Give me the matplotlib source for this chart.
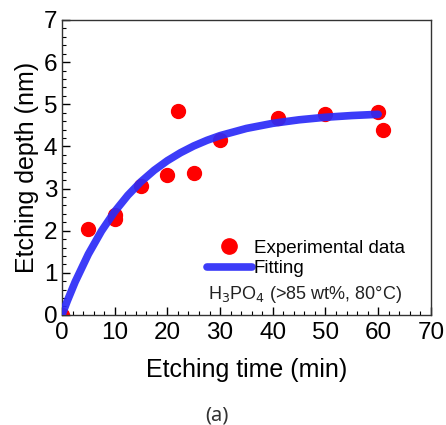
import matplotlib
matplotlib.use("Agg")
import matplotlib.pyplot as plt
from matplotlib.ticker import MultipleLocator

# Experimental data
exp_time = [0, 5, 10, 10, 15, 20, 22, 25, 30, 41, 50, 60, 61]
exp_depth = [0.0, 2.03, 2.38, 2.27, 3.05, 3.33, 4.83, 3.36, 4.14, 4.67, 4.76, 4.81, 4.39]

# Fitting curve
fit_time = [0, 1, 2.5, 5, 7.5, 10, 12.5, 15, 17.5, 20, 22.5, 25, 27.5, 30, 35, 40, 45, 50, 55, 60]
fit_depth = [0.0, 0.33, 0.785, 1.442, 1.992, 2.453, 2.840, 3.163, 3.434, 3.661, 3.850,
             4.010, 4.143, 4.255, 4.426, 4.547, 4.631, 4.691, 4.732, 4.761]

xticks = [0, 10, 20, 30, 40, 50, 60, 70]
yticks = [0, 1, 2, 3, 4, 5, 6, 7]

plt.rcParams['font.family'] = ['Liberation Sans', 'DejaVu Sans']

fig = plt.figure(figsize=(4.46, 4.25), dpi=100)
ax = fig.add_axes([0.139, 0.259, 0.827, 0.694])

ax.plot(fit_time, fit_depth, color='#2b2bf8', lw=5.5, solid_capstyle='round',
        label='Fitting', zorder=3, alpha=0.92)
ax.plot(exp_time, exp_depth, 'o', color='#ff0000', ms=10, label='Experimental data',
        zorder=2, clip_on=True)

ax.set_xlim(0, 70)
ax.set_ylim(0, 7)
ax.set_xticks(xticks)
ax.set_yticks(yticks)
ax.xaxis.set_minor_locator(MultipleLocator(2))
ax.yaxis.set_minor_locator(MultipleLocator(0.2))
ax.tick_params(which='both', direction='in', top=False, right=False, labelsize=17.5)
ax.tick_params(which='major', length=6, width=1.0)
ax.tick_params(which='minor', length=3, width=0.8)
ax.tick_params(axis='x', pad=5)
for s in ax.spines.values():
    s.set_linewidth(1.0)
    s.set_color('#333333')

ax.set_xlabel('Etching time (min)', fontsize=18, labelpad=10)
ax.set_ylabel('Etching depth (nm)', fontsize=18, labelpad=3)

h, l = ax.get_legend_handles_labels()
leg = ax.legend([h[1], h[0]], [l[1], l[0]], loc='lower right',
                bbox_to_anchor=(0.975, 0.07), frameon=False, fontsize=13.5,
                handlelength=2.4, handletextpad=0.1, labelspacing=0.2,
                markerscale=1.1)

ax.text(0.921, 0.035, 'H$_3$PO$_4$ (>85 wt%, 80°C)', transform=ax.transAxes,
        ha='right', va='bottom', fontsize=13, color='#222222')

fig.text(0.487, 0.0235, '(a)', ha='center', va='center', fontsize=14.5,
         color='#333333', family=['Noto Sans', 'DejaVu Sans'])

fig.savefig('out.png', dpi=100)
